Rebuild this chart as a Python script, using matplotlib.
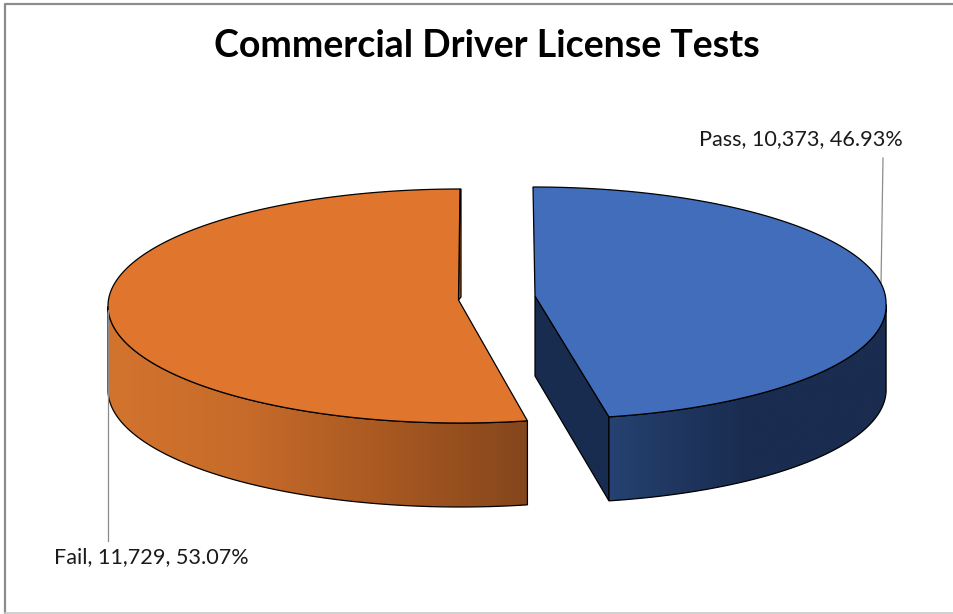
import matplotlib
matplotlib.use('Agg')
import matplotlib.pyplot as plt
from matplotlib.colors import LinearSegmentedColormap
from matplotlib.patches import Polygon
import numpy as np

# data
categorias = ['Pass', 'Fail']
testes = [10373, 11729]
percentuais = [46.93, 53.07]

titulo = 'Commercial Driver License Tests'

plt.rcParams['font.family'] = ['Lato', 'DejaVu Sans']

fig = plt.figure(figsize=(9.54, 6.14), dpi=100)
ax = fig.add_axes([0, 0, 1, 1])
ax.set_xlim(0, 954)
ax.set_ylim(614, 0)
ax.axis('off')

altura = 84
total = sum(testes)
corte = 2 * np.pi * testes[0] / total


def borda(th, cx, ey, rx, ry, skew):
    # ponto na elipse, angulo a partir das 12h no sentido horario
    c = np.cos(th)
    x = cx + rx * np.sin(th) + skew * np.clip(-c, 0, 1)
    y = ey - ry * c
    return x, y


def lado(xs, ys, cores, x0, x1):
    # parede curva com degrade recortado no poligono
    pts = np.column_stack([np.r_[xs, xs[::-1]], np.r_[ys, ys[::-1] + altura]])
    p = Polygon(pts, closed=True, fc='none', ec='none')
    ax.add_patch(p)
    cmap = LinearSegmentedColormap.from_list('g', cores)
    im = ax.imshow(np.linspace(0, 1, 256).reshape(1, -1), cmap=cmap, aspect='auto',
                   extent=[x0, x1, 614, 0], zorder=2)
    im.set_clip_path(p)
    ax.add_patch(Polygon(pts, closed=True, fc='none', ec='black', lw=0.9, zorder=3))


# fatia Pass
th = np.linspace(0, corte, 200)
x, y = borda(th, 533, 303, 353, 116, 8.5)
tip = (535, 296)
ax.add_patch(Polygon([tip, (tip[0], tip[1] + altura - 4), (x[-1], y[-1] + altura), (x[-1], y[-1])],
                     closed=True, fc='#182c50', ec='black', lw=0.9, zorder=2))
m = th >= np.pi / 2
lado(x[m], y[m], ['#264272', '#1f365f', '#1a2c50', '#1a2c50', '#1a2c50'], x[-1], x[m][0])
ax.add_patch(Polygon(np.vstack([[tip], np.column_stack([x, y])]), closed=True,
                     fc='#416dba', ec='black', lw=0.9, zorder=4))
ax.plot([883, 881], [158, 285], color='#8c8c8c', lw=0.9, zorder=1)

# fatia Fail
th = np.linspace(corte, 2 * np.pi, 200)
x, y = borda(th, 460, 306, 352, 117, 0)
tip = (458.5, 300)
m = th <= 3 * np.pi / 2
lado(x[m], y[m], ['#d3742e', '#c66b2a', '#a85821', '#84461c'], x[m][-1], x[m][0])
# parede fina atras do corte
ax.add_patch(Polygon([tip, (461, 297), (461, 189), (x[-1], y[-1])], closed=True,
                     fc='#c46a28', ec='black', lw=0.9, zorder=3))
ax.add_patch(Polygon(np.vstack([[tip], np.column_stack([x, y])]), closed=True,
                     fc='#e0762e', ec='black', lw=0.9, zorder=4))
ax.plot([108, 108], [310, 541], color='#8c8c8c', lw=0.9, zorder=5)

# textos
ax.text(487, 46, titulo, fontsize=27, fontweight='bold', ha='center', va='center', zorder=6)
rotulos = [f'{c}, {v:,}, {p:.2f}%' for c, v, p in zip(categorias, testes, percentuais)]
ax.text(800.5, 139, rotulos[0], fontsize=15.6, ha='center', va='center', color='#1a1a1a', zorder=6)
ax.text(151.5, 557, rotulos[1], fontsize=15.6, ha='center', va='center', color='#1a1a1a', zorder=6)

# moldura
ax.plot([5.5, 5.5, 954], [614, 4, 4], color='#8c8c8c', lw=1.6, zorder=7)
ax.plot([5, 954], [612.5, 612.5], color='#c8c8c8', lw=1.2, zorder=7)

ax.set_xlim(0, 954)
ax.set_ylim(614, 0)
fig.savefig('out.png', dpi=100)
